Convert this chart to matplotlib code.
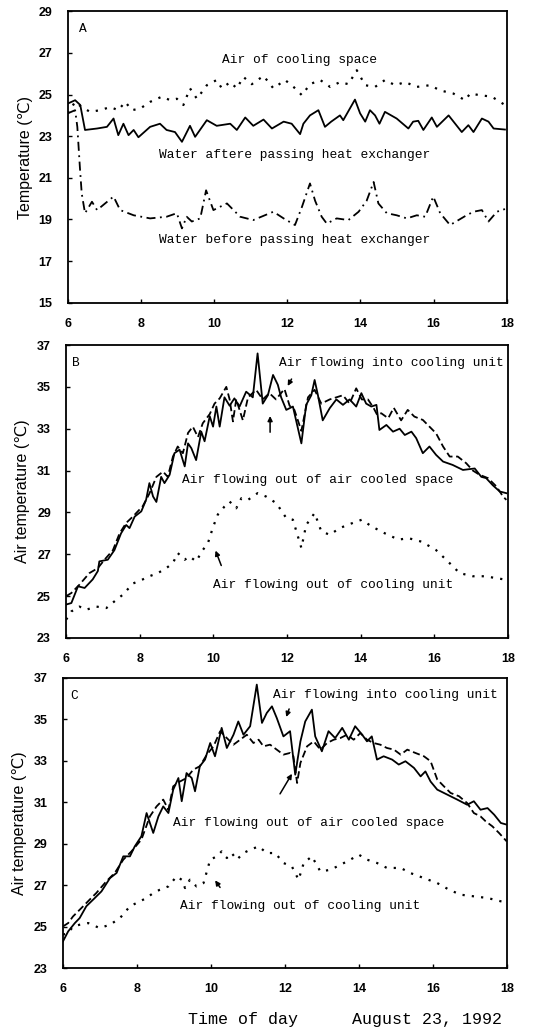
import matplotlib
matplotlib.use("Agg")
from matplotlib import pyplot as plt

# Three panels of temperature against time of day, August 23, 1992

# ---- Panel A data ----
a_after_x = [6.0, 6.2, 6.34, 6.47, 6.8, 7.07, 7.25, 7.38, 7.52, 7.66, 7.8, 7.93, 8.25, 8.52, 8.7, 8.93,
             9.12, 9.34, 9.48, 9.8, 10.07, 10.44, 10.62, 10.85, 11.07, 11.35, 11.58, 11.9, 12.12, 12.35,
             12.44, 12.62, 12.85, 13.03, 13.2, 13.44, 13.53, 13.85, 13.99, 14.13, 14.26, 14.4, 14.52,
             14.67, 14.99, 15.31, 15.44, 15.58, 15.72, 15.95, 16.09, 16.41, 16.77, 16.95, 17.09, 17.32,
             17.5, 17.64, 17.95]
a_after_y = [24.57, 24.73, 24.5, 23.3, 23.37, 23.45, 23.85, 23.05, 23.6, 23.05, 23.3, 22.95, 23.45, 23.6,
             23.3, 23.2, 22.73, 23.5, 22.97, 23.77, 23.5, 23.6, 23.3, 23.9, 23.5, 23.8, 23.37, 23.7, 23.6,
             23.1, 23.6, 24.0, 24.25, 23.45, 23.7, 24.0, 23.77, 24.76, 24.1, 23.7, 24.25, 24.0, 23.6,
             24.17, 23.85, 23.37, 23.7, 23.74, 23.3, 23.9, 23.45, 24.0, 23.2, 23.53, 23.2, 23.85, 23.7,
             23.37, 23.32]

a_before_x = [6.0, 6.2, 6.26, 6.33, 6.38, 6.47, 6.66, 6.8, 7.02, 7.25, 7.43, 7.8, 8.25, 8.7, 8.98, 9.12,
              9.25, 9.39, 9.62, 9.78, 9.98, 10.35, 10.71, 11.07, 11.62, 11.9, 12.21, 12.4, 12.62, 12.76,
              12.94, 13.08, 13.35, 13.67, 13.95, 14.17, 14.36, 14.49, 14.72, 14.99, 15.27, 15.54, 15.77,
              15.99, 16.18, 16.45, 16.68, 16.9, 17.09, 17.32, 17.5, 17.73, 17.95]
a_before_y = [24.1, 24.25, 23.45, 21.5, 20.25, 19.3, 19.85, 19.45, 19.77, 20.1, 19.45, 19.2, 19.05, 19.13,
              19.3, 18.57, 19.13, 18.9, 19.05, 20.4, 19.45, 19.77, 19.13, 18.97, 19.37, 19.05, 18.73,
              19.6, 20.73, 19.9, 19.13, 18.8, 19.05, 18.97, 19.37, 19.9, 20.8, 19.77, 19.3, 19.2, 19.05,
              19.2, 19.13, 20.1, 19.3, 18.73, 18.97, 19.2, 19.37, 19.45, 18.9, 19.37, 19.5]

a_air_x = [6.0, 6.2, 6.38, 6.61, 6.88, 7.16, 7.38, 7.57, 7.75, 7.98, 8.25, 8.57, 8.8, 8.98, 9.16, 9.34,
           9.53, 9.8, 10.07, 10.21, 10.44, 10.62, 10.8, 11.03, 11.35, 11.62, 11.94, 12.17, 12.4, 12.62,
           12.9, 13.17, 13.44, 13.67, 13.9, 14.13, 14.4, 14.67, 14.95, 15.22, 15.54, 15.9, 16.18, 16.54,
           16.86, 17.0, 17.27, 17.59, 17.95]
a_air_y = [24.1, 24.65, 24.4, 24.17, 24.25, 24.4, 24.25, 24.65, 24.25, 24.33, 24.65, 24.9, 24.73, 24.8,
           24.5, 25.3, 24.8, 25.45, 25.7, 25.3, 25.6, 25.3, 25.85, 25.5, 25.9, 25.3, 25.7, 25.37, 24.97,
           25.5, 25.7, 25.37, 25.6, 25.5, 26.17, 25.45, 25.37, 25.7, 25.45, 25.6, 25.37, 25.45, 25.2,
           25.05, 24.73, 25.05, 24.97, 24.9, 24.5]

# ---- Panel B data ----
b_space_x = [6.0, 6.14, 6.32, 6.5, 6.72, 6.86, 6.9, 7.13, 7.31, 7.49, 7.63, 7.72, 7.86, 8.04, 8.17, 8.26,
             8.36, 8.45, 8.58, 8.67, 8.81, 8.94, 9.08, 9.22, 9.31, 9.4, 9.53, 9.67, 9.76, 9.9, 9.99, 10.08,
             10.17, 10.3, 10.44, 10.57, 10.71, 10.89, 11.07, 11.2, 11.34, 11.48, 11.62, 11.75, 11.84,
             11.98, 12.16, 12.39, 12.52, 12.66, 12.75, 12.84, 12.97, 13.16, 13.34, 13.52, 13.7, 13.88,
             14.02, 14.15, 14.29, 14.43, 14.51, 14.7, 14.88, 15.06, 15.2, 15.38, 15.51, 15.69, 15.87,
             16.05, 16.24, 16.5, 16.78, 17.1, 17.28, 17.41, 17.59, 17.78, 17.96]
b_space_y = [24.6, 24.67, 25.47, 25.39, 25.8, 26.2, 26.66, 26.74, 27.2, 28.0, 28.4, 28.25, 28.8, 29.05,
             29.6, 30.4, 29.76, 29.5, 30.7, 30.4, 30.8, 31.83, 32.0, 31.2, 32.3, 32.07, 31.5, 32.86, 32.4,
             33.6, 33.1, 34.06, 33.1, 34.5, 34.1, 34.45, 34.06, 34.77, 34.5, 36.6, 34.2, 34.6, 35.57,
             35.1, 34.5, 33.9, 34.06, 32.3, 34.14, 34.6, 35.33, 34.6, 33.4, 33.98, 34.4, 34.14, 34.4,
             34.06, 34.7, 34.2, 34.06, 34.14, 32.94, 33.18, 32.86, 33.0, 32.7, 32.86, 32.55, 31.83,
             32.15, 31.75, 31.43, 31.27, 31.03, 31.1, 30.7, 30.64, 30.3, 30.0, 29.92]

b_into_x = [6.0, 6.14, 6.36, 6.63, 6.86, 7.04, 7.27, 7.45, 7.63, 7.81, 8.08, 8.26, 8.45, 8.63, 8.76, 8.9,
            9.03, 9.17, 9.31, 9.44, 9.58, 9.71, 9.9, 10.03, 10.17, 10.35, 10.44, 10.53, 10.62, 10.8,
            10.94, 11.16, 11.34, 11.52, 11.7, 11.93, 12.07, 12.2, 12.39, 12.57, 12.75, 12.93, 13.16,
            13.34, 13.52, 13.7, 13.88, 14.03, 14.2, 14.35, 14.45, 14.56, 14.75, 14.9, 15.1, 15.28,
            15.46, 15.69, 15.87, 16.05, 16.24, 16.42, 16.64, 16.87, 17.05, 17.23, 17.46, 17.69, 17.87,
            17.96]
b_into_y = [25.0, 25.15, 25.55, 26.1, 26.34, 26.74, 27.2, 28.0, 28.5, 28.8, 29.3, 29.9, 30.7, 30.95, 30.7,
            31.67, 32.15, 31.83, 32.8, 33.1, 32.6, 33.26, 33.7, 34.2, 34.45, 35.0, 34.4, 33.35, 34.4, 33.4,
            34.5, 34.86, 34.4, 34.7, 34.4, 34.9, 34.1, 33.9, 32.9, 34.5, 34.86, 34.2, 34.4, 34.5, 34.6,
            34.2, 34.93, 34.4, 34.4, 34.0, 33.66, 33.74, 33.5, 34.0, 33.4, 33.9, 33.58, 33.42, 33.1,
            32.78, 32.15, 31.67, 31.67, 31.35, 31.0, 30.8, 30.64, 30.24, 29.76, 29.6]

b_unit_x = [6.0, 6.14, 6.36, 6.54, 6.82, 7.09, 7.31, 7.54, 7.81, 8.08, 8.26, 8.49, 8.72, 8.9, 9.03, 9.22,
            9.35, 9.53, 9.71, 9.85, 9.99, 10.12, 10.3, 10.44, 10.62, 10.76, 10.94, 11.2, 11.43, 11.71,
            11.98, 12.16, 12.39, 12.52, 12.75, 12.93, 13.16, 13.43, 13.79, 14.03, 14.3, 14.66, 15.03,
            15.3, 15.66, 16.05, 16.37, 16.69, 17.05, 17.37, 17.69, 17.96]
b_unit_y = [23.88, 24.27, 24.5, 24.35, 24.5, 24.43, 24.75, 25.07, 25.6, 25.8, 25.95, 26.1, 26.34, 26.58,
            27.06, 26.74, 26.9, 26.66, 27.2, 27.53, 28.3, 28.9, 29.28, 29.52, 29.2, 29.68, 29.6, 29.92,
            29.76, 29.44, 28.73, 28.65, 27.3, 28.4, 28.97, 28.1, 27.93, 28.25, 28.5, 28.65, 28.33, 28.0,
            27.7, 27.77, 27.6, 27.2, 26.66, 26.1, 25.95, 25.95, 25.86, 25.78]

# ---- Panel C data ----
c_space_x = [6.0, 6.14, 6.32, 6.45, 6.63, 6.86, 7.04, 7.27, 7.45, 7.63, 7.81, 7.94, 8.12, 8.26, 8.44,
             8.58, 8.71, 8.85, 8.98, 9.12, 9.21, 9.34, 9.48, 9.57, 9.7, 9.84, 9.98, 10.11, 10.29, 10.43,
             10.61, 10.74, 10.88, 11.06, 11.24, 11.38, 11.51, 11.65, 11.78, 11.96, 12.14, 12.28, 12.42,
             12.55, 12.73, 12.82, 13.0, 13.18, 13.36, 13.55, 13.73, 13.9, 14.09, 14.22, 14.35, 14.49,
             14.67, 14.9, 15.08, 15.26, 15.49, 15.67, 15.8, 15.94, 16.12, 16.39, 16.66, 16.93, 17.11,
             17.29, 17.48, 17.66, 17.84, 18.0]
c_space_y = [24.29, 24.77, 25.17, 25.41, 25.98, 26.38, 26.7, 27.34, 27.59, 28.39, 28.39, 28.87, 29.36,
             30.48, 29.52, 30.32, 30.8, 30.48, 31.61, 32.17, 31.05, 32.41, 32.17, 31.53, 32.74, 33.06,
             33.86, 33.22, 34.59, 33.62, 34.26, 34.9, 34.26, 34.67, 36.68, 34.83, 35.31, 35.63, 35.07,
             34.18, 34.43, 32.33, 33.94, 34.9, 35.47, 34.18, 33.46, 34.43, 34.1, 34.59, 34.02, 34.67,
             34.26, 33.94, 34.18, 33.06, 33.22, 33.06, 32.82, 32.98, 32.66, 32.25, 32.49, 32.0, 31.61,
             31.37, 31.13, 30.88, 31.05, 30.64, 30.72, 30.4, 30.0, 29.92]

c_into_x = [6.0, 6.14, 6.27, 6.5, 6.72, 6.9, 7.17, 7.4, 7.63, 7.85, 8.12, 8.35, 8.53, 8.71, 8.85, 8.98,
            9.16, 9.34, 9.52, 9.7, 9.89, 10.07, 10.25, 10.43, 10.61, 10.79, 10.97, 11.15, 11.29, 11.42,
            11.6, 11.78, 11.96, 12.14, 12.23, 12.33, 12.42, 12.6, 12.78, 12.96, 13.14, 13.32, 13.5, 13.68,
            13.86, 14.04, 14.22, 14.4, 14.58, 14.76, 14.95, 15.13, 15.31, 15.53, 15.76, 15.94, 16.12,
            16.3, 16.48, 16.71, 16.93, 17.11, 17.29, 17.43, 17.61, 17.79, 18.0]
c_into_y = [25.01, 25.17, 25.49, 25.9, 26.3, 26.62, 27.18, 27.59, 28.23, 28.63, 29.2, 30.32, 30.8, 31.13,
            30.64, 31.77, 32.0, 32.17, 32.57, 32.74, 33.3, 33.7, 34.43, 34.1, 33.78, 34.02, 34.26, 33.86,
            34.02, 33.7, 33.78, 33.54, 33.3, 33.38, 33.22, 31.93, 32.9, 33.7, 33.94, 33.54, 33.86, 34.02,
            34.1, 34.26, 34.02, 34.34, 34.02, 33.86, 33.78, 33.62, 33.54, 33.3, 33.54, 33.38, 33.22,
            32.98, 32.1, 31.77, 31.45, 31.29, 30.96, 30.48, 30.32, 30.08, 29.84, 29.52, 29.11]

c_unit_x = [6.0, 6.14, 6.27, 6.45, 6.68, 6.99, 7.27, 7.54, 7.81, 8.08, 8.26, 8.44, 8.62, 8.85, 9.07, 9.21,
            9.3, 9.43, 9.61, 9.8, 9.98, 10.16, 10.29, 10.43, 10.56, 10.7, 10.88, 11.06, 11.29, 11.51,
            11.74, 11.96, 12.19, 12.37, 12.51, 12.73, 12.96, 13.23, 13.5, 13.77, 14.0, 14.22, 14.49,
            14.76, 15.13, 15.4, 15.76, 16.12, 16.44, 16.75, 17.11, 17.48, 17.84, 18.0]
c_unit_y = [24.61, 24.69, 25.0, 25.09, 25.17, 24.93, 25.09, 25.41, 25.98, 26.22, 26.38, 26.62, 26.78,
            26.94, 27.42, 27.26, 26.86, 27.26, 26.94, 27.1, 28.23, 28.39, 28.63, 28.31, 28.55, 28.23,
            28.55, 28.71, 28.87, 28.55, 28.55, 28.07, 27.9, 27.26, 28.07, 28.39, 27.66, 27.74, 27.98,
            28.23, 28.47, 28.23, 28.07, 27.83, 27.83, 27.58, 27.34, 27.1, 26.78, 26.54, 26.46, 26.38,
            26.22, 26.17]

x_ticks = [6, 8, 10, 12, 14, 16, 18]
a_yticks = [15, 17, 19, 21, 23, 25, 27, 29]
bc_yticks = [23, 25, 27, 29, 31, 33, 35, 37]

# styles
solid = dict(color="black", lw=1.3, ls="-")
dashed = dict(color="black", lw=1.3, ls=(0, (4, 2)))
dotted = dict(color="black", lw=1.6, ls=(0, (1, 3.2)))
dashdot = dict(color="black", lw=1.3, ls=(0, (5, 2.5, 1, 2.5)))

label_font = dict(family=["Liberation Mono", "DejaVu Sans Mono"], size=9.3)
tick_font = ["Liberation Sans", "DejaVu Sans"]
ylab_font = dict(family=["Liberation Sans", "DejaVu Sans"], size=11.5)

fig = plt.figure(figsize=(5.34, 10.33), dpi=100)


def style_axes(ax, yticks, ylims):
    ax.set_xlim(6, 18)
    ax.set_ylim(*ylims)
    ax.set_xticks(x_ticks)
    ax.set_yticks(yticks)
    ax.tick_params(direction="in", length=3, width=1, labelsize=9)
    ax.tick_params(axis="x", pad=11)
    ax.tick_params(axis="y", pad=11)
    for lab in ax.get_xticklabels() + ax.get_yticklabels():
        lab.set_fontfamily(tick_font)
        lab.set_fontweight("bold")
    for sp in ax.spines.values():
        sp.set_linewidth(1.3)


def arrow(ax, start, end):
    ax.annotate("", xy=end, xytext=start,
                arrowprops=dict(arrowstyle="-|>", color="black", lw=1.1, mutation_scale=7))


# Panel A
axA = fig.add_axes([0.127, 0.707, 0.822, 0.282])
axA.plot(a_air_x, a_air_y, **dotted)
axA.plot(a_after_x, a_after_y, **solid)
axA.plot(a_before_x, a_before_y, **dashdot)
style_axes(axA, a_yticks, (15, 29))
axA.set_ylabel("Temperature (℃)", **ylab_font, labelpad=4)
axA.text(6.3, 28.0, "A", **label_font)
axA.text(12.34, 26.65, "Air of cooling space", ha="center", va="center", **label_font)
axA.text(12.21, 22.09, "Water aftere passing heat exchanger", ha="center", va="center", **label_font)
axA.text(12.21, 18.0, "Water before passing heat exchanger", ha="center", va="center", **label_font)

# Panel B
axB = fig.add_axes([0.124, 0.3824, 0.827, 0.2836])
axB.plot(b_into_x, b_into_y, **dashed)
axB.plot(b_space_x, b_space_y, **solid)
axB.plot(b_unit_x, b_unit_y, **dotted)
style_axes(axB, bc_yticks, (23, 37))
axB.set_ylabel("Air temperature (℃)", **ylab_font, labelpad=5)
axB.text(6.15, 36.0, "B", **label_font)
axB.text(14.83, 36.12, "Air flowing into cooling unit", ha="center", va="center", **label_font)
axB.text(12.84, 30.56, "Air flowing out of air cooled space", ha="center", va="center", **label_font)
axB.text(13.25, 25.55, "Air flowing out of cooling unit", ha="center", va="center", **label_font)
arrow(axB, (12.16, 35.49), (11.98, 34.93))
arrow(axB, (11.54, 32.7), (11.54, 33.74))
arrow(axB, (10.24, 26.34), (10.03, 27.3))

# Panel C
axC = fig.add_axes([0.118, 0.0629, 0.831, 0.2808])
axC.plot(c_into_x, c_into_y, **dashed)
axC.plot(c_space_x, c_space_y, **solid)
axC.plot(c_unit_x, c_unit_y, **dotted)
style_axes(axC, bc_yticks, (23, 37))
axC.set_ylabel("Air temperature (℃)", **ylab_font, labelpad=5)
axC.text(6.2, 36.0, "C", **label_font)
axC.text(14.72, 36.2, "Air flowing into cooling unit", ha="center", va="center", **label_font)
axC.text(12.64, 30.0, "Air flowing out of air cooled space", ha="center", va="center", **label_font)
axC.text(12.42, 25.98, "Air flowing out of cooling unit", ha="center", va="center", **label_font)
arrow(axC, (12.14, 35.63), (12.01, 34.99))
arrow(axC, (11.83, 31.29), (12.23, 32.49))
arrow(axC, (10.29, 26.78), (10.07, 27.34))

fig.text(0.455, 0.006, "Time of day", ha="center", va="bottom",
         family=["Liberation Mono", "DejaVu Sans Mono"], size=12)
fig.text(0.80, 0.006, "August 23, 1992", ha="center", va="bottom",
         family=["Liberation Mono", "DejaVu Sans Mono"], size=12)

fig.savefig("out.png", dpi=100)
